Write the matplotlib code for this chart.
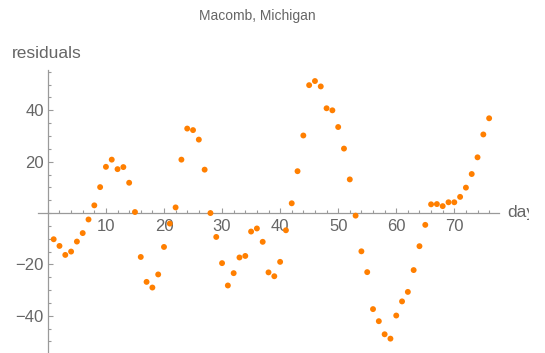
import numpy as np
import matplotlib
matplotlib.use("Agg")
import matplotlib.pyplot as plt
import matplotlib.ticker as mticker
from matplotlib.transforms import Bbox

# ===============================
# DATA
# ===============================

days = list(range(1, 77))
residuals = [
    -10.2, -12.8, -16.3, -15.0, -11.1, -7.8, -2.5, 3.0, 10.1, 18.0,
    20.8, 17.1, 17.9, 11.8, 0.4, -17.1, -26.8, -29.0, -23.9, -13.2,
    -4.1, 2.2, 20.8, 32.9, 32.3, 28.6, 16.9, 0.0, -9.3, -19.5,
    -28.2, -23.4, -17.3, -16.7, -7.2, -6.0, -11.2, -23.1, -24.6, -19.0,
    -6.7, 3.8, 16.3, 30.2, 49.8, 51.4, 49.3, 40.8, 40.0, 33.5,
    25.1, 13.1, -1.0, -14.9, -23.0, -37.4, -42.1, -47.2, -48.9, -39.9,
    -34.4, -30.7, -22.2, -12.9, -4.6, 3.4, 3.5, 2.7, 4.2, 4.2,
    6.3, 9.9, 15.2, 21.7, 30.6, 36.9,
]

x_major = [10, 20, 30, 40, 50, 60, 70]
y_major = [-40, -20, 20, 40]

title = "Macomb, Michigan"
xlabel = "day"
ylabel = "residuals"

# -------------------------------
# STYLE
# -------------------------------

plt.rcParams["font.family"] = ["Liberation Sans", "DejaVu Sans"]
axis_gray = "#9a9a9a"
text_gray = "#666666"
dot_color = "#ff7f00"

W, H = 545, 353
fig = plt.figure(figsize=(W / 100, H / 100), dpi=100)

# axes box in pixels (left, right, top, bottom)
left_px, right_px, top_px, bottom_px = 38, 499.3, 70, 352
ax = fig.add_axes([left_px / W, 1 - bottom_px / H,
                   (right_px - left_px) / W, (bottom_px - top_px) / H])
ax.patch.set_alpha(0)

ax.scatter(days, residuals, s=18, color=dot_color, edgecolors="none",
           zorder=3, clip_on=False)

ax.set_xlim(-1.7, 77.75)
ax.set_ylim(-54.1, 55.7)

# Mathematica-style axes crossing at the origin
ax.spines["top"].set_visible(False)
ax.spines["right"].set_visible(False)
ax.spines["left"].set_position(("data", 0))
ax.spines["bottom"].set_position(("data", 0))
for s in ["left", "bottom"]:
    ax.spines[s].set_color(axis_gray)
    ax.spines[s].set_linewidth(0.9)

ax.xaxis.set_major_locator(mticker.FixedLocator(x_major))
ax.xaxis.set_minor_locator(mticker.MultipleLocator(2))
ax.yaxis.set_major_locator(mticker.FixedLocator(y_major))
ax.yaxis.set_minor_locator(mticker.MultipleLocator(5))

ax.tick_params(axis="both", which="both", direction="in", color=axis_gray,
               labelcolor=text_gray, labelsize=12)
ax.tick_params(axis="both", which="major", length=3.5, width=0.8)
ax.tick_params(axis="both", which="minor", length=2.2, width=0.8)
ax.tick_params(axis="x", which="major", pad=4)
ax.tick_params(axis="y", which="major", pad=3)

# axis labels and title
fig.text(12 / W, 1 - 53 / H, ylabel, ha="left", va="center",
         fontsize=12.5, color=text_gray)
t = fig.text(507 / W, 1 - 212 / H, xlabel, ha="left", va="center",
             fontsize=12.5, color=text_gray)
t.set_clip_on(True)
t.set_clip_box(Bbox([[0, 0], [529, H]]))
fig.text(257 / W, 1 - 16 / H, title, ha="center", va="center",
         fontsize=10, color=text_gray)

fig.savefig("out.png", dpi=100)
